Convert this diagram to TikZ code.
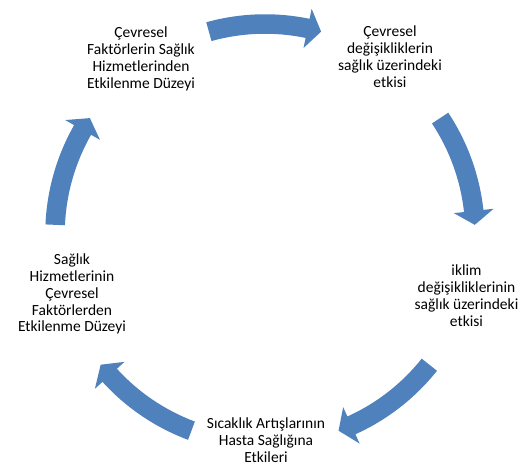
\documentclass[tikz,border=0pt]{standalone}
\usepackage{fontspec}
\setmainfont{Carlito}
\usetikzlibrary{calc}
\definecolor{arrowblue}{RGB}{79,129,189}
\tikzset{
  lbl/.style={anchor=base, inner sep=0pt, font=\fontsize{15.5}{16.7}\selectfont},
  arrowfill/.style={fill=arrowblue, draw=none}
}
\newcommand{\lines}[1]{{\setlength{\tabcolsep}{0pt}\renewcommand{\arraystretch}{1}\begin{tabular}[t]{c}#1\end{tabular}}}
% cyclic block arrow: #1 = centre angle
\newcommand{\cyclearrow}[1]{%
  \pgfmathsetmacro{\sA}{#1+15.5}%
  \pgfmathsetmacro{\eA}{#1-15.5}%
  \pgfmathsetmacro{\bA}{#1-15.5+3.8}%
  \fill[arrowfill] (\sA:219.75pt) arc[start angle=\sA, end angle=\bA, radius=219.75pt]
    -- (\bA:230pt) -- (\eA:210pt) -- (\bA:190pt) -- (\bA:200.25pt)
    arc[start angle=\bA, end angle=\sA, radius=200.25pt] -- cycle;}
\begin{document}
\begin{tikzpicture}[x=1pt,y=1pt]
\useasboundingbox (0,0) rectangle (520,469);
\coordinate (C) at (265,235);
\node[lbl] (t1) at (141,431) {\lines{Çevresel\\Faktörlerin Sağlık\\Hizmetlerinden\\Etkilenme Düzeyi}};
\node[lbl] (t2) at (390,432) {\lines{Çevresel\\değişikliklerin\\sağlık üzerindeki\\etkisi}};
\node[lbl] (t3) at (466.5,193) {\lines{iklim\\değişikliklerinin\\sağlık üzerindeki\\etkisi}};
\node[lbl] (t4) at (266,40) {\lines{Sıcaklık Artışlarının\\Hasta Sağlığına\\Etkileri}};
\node[lbl] (t5) at (72,204) {\lines{Sağlık\\Hizmetlerinin\\Çevresel\\Faktörlerden\\Etkilenme Düzeyi}};
\begin{scope}[shift={(C)}]
\cyclearrow{90}
\cyclearrow{18}
\cyclearrow{-54}
\cyclearrow{-126}
\cyclearrow{162}
\end{scope}
\end{tikzpicture}
\end{document}
